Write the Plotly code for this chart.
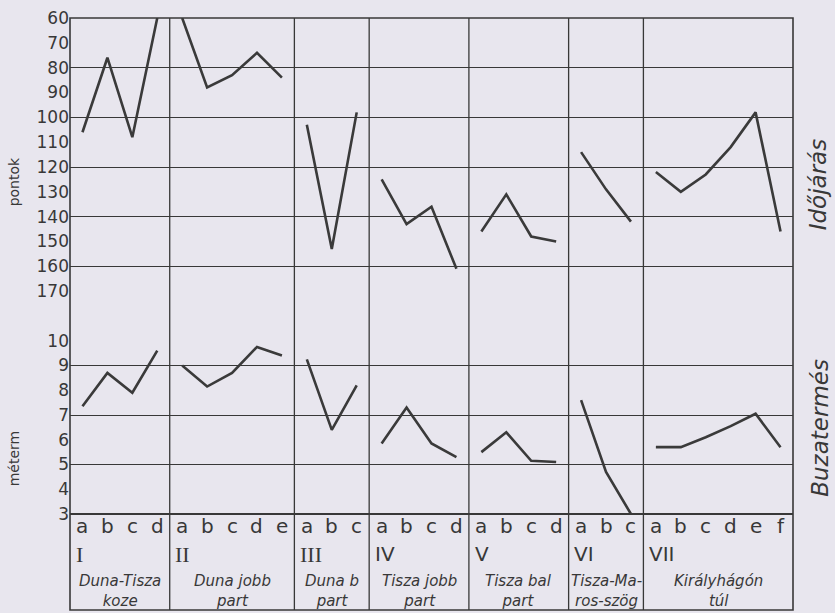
import plotly.graph_objects as go

# ---------------- data ----------------
SECTIONS = ["I", "II", "III", "IV", "V", "VI", "VII"]
LETTERS = [
    ["a", "b", "c", "d"],
    ["a", "b", "c", "d", "e"],
    ["a", "b", "c"],
    ["a", "b", "c", "d"],
    ["a", "b", "c", "d"],
    ["a", "b", "c"],
    ["a", "b", "c", "d", "e", "f"],
]
REGION_NAMES = [
    "Duna-Tisza<br>koze",
    "Duna jobb<br>part",
    "Duna b<br>part",
    "Tisza jobb<br>part",
    "Tisza bal<br>part",
    "Tisza-Ma-<br>ros-szög",
    "Királyhágón<br>túl",
]
# Időjárás (pontok) - upper panel, inverted scale
IDOJARAS = [
    [106, 76, 108, 60],
    [60, 88, 83, 74, 84],
    [103, 153, 98],
    [125, 143, 136, 161],
    [146, 131, 148, 150],
    [114, 129, 142],
    [122, 130, 123, 112, 98, 146],
]
# Búzatermés (méterm) - lower panel
BUZATERMES = [
    [7.35, 8.7, 7.9, 9.6],
    [9.0, 8.15, 8.7, 9.75, 9.4],
    [9.25, 6.4, 8.2],
    [5.85, 7.3, 5.85, 5.3],
    [5.5, 6.3, 5.15, 5.1],
    [7.6, 4.7, 3.0],
    [5.7, 5.7, 6.1, 6.55, 7.05, 5.7],
]
UP_TICKS = [60, 70, 80, 90, 100, 110, 120, 130, 140, 150, 160, 170]
UP_GRID = [80, 100, 120, 140, 160]
LOW_TICKS = [3, 4, 5, 6, 7, 8, 9, 10]
LOW_GRID = [5, 7, 9]

# ---------------- styling ----------------
BG = "#e8e6ee"
INK = "#383838"
LINE = "#3a3a3a"
HAND = "DejaVu Sans, sans-serif"
SERIF = "Liberation Serif, serif"

fig = go.Figure()

starts = []
s = 0
for letters in LETTERS:
    starts.append(s)
    s += len(letters)
total = s

for k, letters in enumerate(LETTERS):
    xs = [starts[k] + i + 0.5 for i in range(len(letters))]
    fig.add_trace(go.Scatter(x=xs, y=IDOJARAS[k], mode="lines", xaxis="x", yaxis="y",
                             line=dict(color=LINE, width=2.6), showlegend=False,
                             hoverinfo="skip"))
    fig.add_trace(go.Scatter(x=xs, y=BUZATERMES[k], mode="lines", xaxis="x", yaxis="y2",
                             line=dict(color=LINE, width=2.6), showlegend=False,
                             hoverinfo="skip"))

# geometry
top_px, bot_px = 18, 610
H = bot_px - top_px
def py(px):
    return (bot_px - px) / H

split = py(316)
label_top = py(514)

annotations = []
shapes = []

# section boundaries (vertical lines across full height)
for k in range(1, len(LETTERS)):
    shapes.append(dict(type="line", xref="x", yref="paper", x0=starts[k], x1=starts[k],
                       y0=0, y1=1, line=dict(color=INK, width=1.3)))
# outer frame
shapes.append(dict(type="rect", xref="paper", yref="paper", x0=0, x1=1, y0=0, y1=1,
                   line=dict(color=INK, width=1.6)))
# base line of chart / top of label block
shapes.append(dict(type="line", xref="paper", yref="paper", x0=0, x1=1,
                   y0=label_top, y1=label_top, line=dict(color=INK, width=1.8)))

for k, letters in enumerate(LETTERS):
    for i, L in enumerate(letters):
        annotations.append(dict(x=starts[k] + i + 0.5, y=py(526), xref="x", yref="paper",
                                text=L, showarrow=False, font=dict(family=HAND, size=20, color=INK),
                                xanchor="center", yanchor="middle"))
    annotations.append(dict(x=starts[k] + 0.15, y=py(554), xref="x", yref="paper",
                            text=SECTIONS[k], showarrow=False,
                            font=dict(family=SERIF if k < 3 else HAND, size=22 if k < 3 else 20,
                                      color=INK),
                            xanchor="left", yanchor="middle"))
    annotations.append(dict(x=starts[k] + len(letters) / 2, y=py(591), xref="x", yref="paper",
                            text="<i>" + REGION_NAMES[k] + "</i>", showarrow=False,
                            font=dict(family=HAND, size=15, color=INK),
                            xanchor="center", yanchor="middle"))

# axis titles
annotations += [
    dict(x=-0.077, y=py(182), xref="paper", yref="paper", text="pontok", textangle=-90,
         showarrow=False, font=dict(family=HAND, size=14, color=INK),
         xanchor="center", yanchor="middle"),
    dict(x=-0.077, y=py(458), xref="paper", yref="paper", text="méterm", textangle=-90,
         showarrow=False, font=dict(family=HAND, size=14, color=INK),
         xanchor="center", yanchor="middle"),
    dict(x=1.035, y=py(185), xref="paper", yref="paper", text="<i>Időjárás</i>", textangle=-90,
         showarrow=False, font=dict(family=HAND, size=23, color=INK),
         xanchor="center", yanchor="middle"),
    dict(x=1.037, y=py(428), xref="paper", yref="paper", text="<i>Buzatermés</i>", textangle=-90,
         showarrow=False, font=dict(family=HAND, size=23, color=INK),
         xanchor="center", yanchor="middle"),
]

fig.update_layout(
    width=835, height=613,
    margin=dict(l=70, r=42, t=top_px, b=613 - bot_px, autoexpand=False),
    paper_bgcolor=BG, plot_bgcolor=BG,
    showlegend=False,
    xaxis=dict(domain=[0, 1], range=[0, total], anchor="y2", showgrid=False,
               zeroline=False, showticklabels=False, ticks="", automargin=False),
    yaxis=dict(domain=[split, 1], range=[180, 60], tickvals=UP_TICKS, showgrid=False,
               zeroline=False, ticks="", automargin=False,
               tickfont=dict(family=HAND, size=17, color=INK),
               minor=dict(tickvals=UP_GRID, showgrid=True, gridcolor=INK, gridwidth=1.3, ticks="")),
    yaxis2=dict(domain=[label_top, split], range=[3, 11], tickvals=LOW_TICKS, showgrid=False,
                zeroline=False, ticks="", automargin=False,
                tickfont=dict(family=HAND, size=17, color=INK),
                minor=dict(tickvals=LOW_GRID, showgrid=True, gridcolor=INK, gridwidth=1.3, ticks="")),
    annotations=annotations,
    shapes=shapes,
)

fig.write_html("out.html",
               config={"displayModeBar": False},
               post_script="document.body.style.margin='0px';"
                           "document.body.style.padding='0px';"
                           "document.body.style.background='" + BG + "';")
